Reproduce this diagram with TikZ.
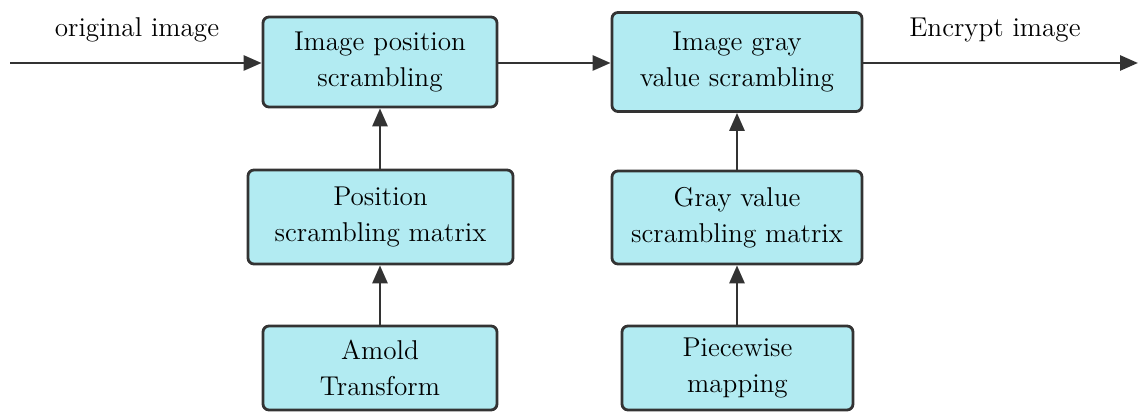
\documentclass[tikz,border=0pt]{standalone}
\usetikzlibrary{arrows.meta}
\definecolor{boxfill}{HTML}{B2EBF2}
\definecolor{edge}{HTML}{333333}
\begin{document}
\begin{tikzpicture}[x=0.5pt,y=-0.5pt,
  blk/.style={draw=edge,fill=boxfill,line width=1.4pt,rounded corners=3pt,
    align=center,inner sep=0pt,font=\fontsize{13.6pt}{18pt}\selectfont},
  conn/.style={draw=edge,line width=1.4pt,-{Triangle[length=9pt,width=7.5pt]}},
  lbl/.style={font=\fontsize{13.6pt}{18pt}\selectfont,inner sep=0pt}]
\useasboundingbox (0,0) rectangle (1142,415);
\node[blk,minimum width=117pt,minimum height=45pt] (b1) at (380,62) {Image position\\scrambling};
\node[blk,minimum width=132.5pt,minimum height=47pt] (b2) at (380.5,217) {Position\\scrambling matrix};
\node[blk,minimum width=117pt,minimum height=42pt] (b3) at (380,368) {Amold\\Transform};
\node[blk,minimum width=125pt,minimum height=49.5pt] (b4) at (737,62) {Image gray\\value scrambling};
\node[blk,minimum width=125pt,minimum height=46.5pt] (b5) at (737,217.5) {Gray value\\scrambling matrix};
\node[blk,minimum width=115.5pt,minimum height=42pt] (b6) at (737.5,368) {Piecewise\\mapping};
\node[lbl] (t1) at (137,30) {original image};
\node[lbl] (t2) at (995,30) {Encrypt image};
\coordinate (in) at (10,63);
\coordinate (out) at (1138,63);
\draw[conn] (in) -- (in -| b1.west);
\draw[conn] (in -| b1.east) -- (in -| b4.west);
\draw[conn] (in -| b4.east) -- (out);
\draw[conn] (b2.north -| b1.south) -- (b1.south);
\draw[conn] (b3.north) -- (b3.north |- b2.south);
\draw[conn] (b5.north -| b4.south) -- (b4.south);
\draw[conn] (b6.north -| b5.south) -- (b5.south);
\end{tikzpicture}
\end{document}
